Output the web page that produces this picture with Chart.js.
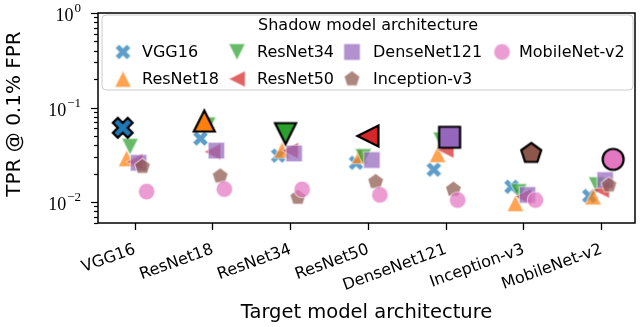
<!DOCTYPE html>
<html>
<head>
<meta charset="utf-8">
<script src="https://cdn.jsdelivr.net/npm/chart.js@4"></script>
<style>
  html, body { margin: 0; padding: 0; background: #fff; }
</style>
</head>
<body>
<canvas id="chart" width="640" height="327"></canvas>
<script>
// target models on the x axis, shadow models are the series (same names)
const targets = ["VGG16", "ResNet18", "ResNet34", "ResNet50", "DenseNet121", "Inception-v3", "MobileNet-v2"];
const shadows = ["VGG16", "ResNet18", "ResNet34", "ResNet50", "DenseNet121", "Inception-v3", "MobileNet-v2"];

// TPR @ 0.1% FPR, one array per shadow model, values for each target
const vgg16       = [0.061, 0.047, 0.031, 0.026, 0.022, 0.0145, 0.0116];
const resnet18    = [0.029, 0.072, 0.0355, 0.031, 0.032, 0.0097, 0.0114];
const resnet34    = [0.0385, 0.065, 0.053, 0.030, 0.045, 0.0128, 0.0151];
const resnet50    = [0.0267, 0.034, 0.035, 0.050, 0.0355, 0.0114, 0.0134];
const densenet121 = [0.026, 0.035, 0.0327, 0.0278, 0.0484, 0.0119, 0.0171];
const inception   = [0.0237, 0.0188, 0.0112, 0.0164, 0.0136, 0.0327, 0.0151];
const mobilenet   = [0.0129, 0.0137, 0.0136, 0.0119, 0.0105, 0.0105, 0.0283];

const yTickValues = [1, 0.1, 0.01];
const yTickExps = ["0", "\u22121", "\u22122"];

const series = [vgg16, resnet18, resnet34, resnet50, densenet121, inception, mobilenet];
const colors = ["#1f77b4", "#ff7f0e", "#2ca02c", "#d62728", "#9467bd", "#8c564b", "#e377c2"];
const shapes = ["X", "^", "v", "<", "s", "p", "o"];
const dodge = [-0.158, -0.109, -0.064, -0.005, 0.046, 0.095, 0.149];

const SMALL = 16.5, BIG = 21;

function tracePath(g, shape, s) {
  const h = s / 2;
  g.beginPath();
  if (shape === "X") {
    const pts = [[-1,-3],[1,-3],[1,-1],[3,-1],[3,1],[1,1],[1,3],[-1,3],[-1,1],[-3,1],[-3,-1],[-1,-1]];
    const c = Math.SQRT1_2;
    pts.forEach((p, i) => {
      const x = p[0] / 6 * s, y = p[1] / 6 * s;
      const rx = x * c - y * c, ry = x * c + y * c;
      if (i === 0) g.moveTo(rx, ry); else g.lineTo(rx, ry);
    });
  } else if (shape === "^") {
    g.moveTo(0, -h); g.lineTo(-h, h); g.lineTo(h, h);
  } else if (shape === "v") {
    g.moveTo(0, h); g.lineTo(-h, -h); g.lineTo(h, -h);
  } else if (shape === "<") {
    g.moveTo(-h, 0); g.lineTo(h, -h); g.lineTo(h, h);
  } else if (shape === "s") {
    g.rect(-h, -h, s, s);
  } else if (shape === "p") {
    for (let k = 0; k < 5; k++) {
      const a = (-90 + k * 72) * Math.PI / 180;
      if (k === 0) g.moveTo(h * Math.cos(a), h * Math.sin(a)); else g.lineTo(h * Math.cos(a), h * Math.sin(a));
    }
  } else {
    g.arc(0, 0, h, 0, Math.PI * 2);
  }
  g.closePath();
}

function makeMarker(shape, color, size, big) {
  const lw = big ? 2.2 : 1.2;
  const dim = Math.ceil(size + lw * 2 + 4);
  const cv = document.createElement("canvas");
  cv.width = dim; cv.height = dim;
  const g = cv.getContext("2d");
  g.translate(dim / 2, dim / 2);
  tracePath(g, shape, size);
  g.globalAlpha = big ? 1 : 0.72;
  g.fillStyle = color;
  g.fill();
  g.globalAlpha = 1;
  g.lineJoin = "miter";
  g.lineWidth = lw;
  g.strokeStyle = big ? "#000" : "rgba(255,255,255,0.55)";
  g.stroke();
  return cv;
}

const smallMarks = shapes.map((sh, i) => makeMarker(sh, colors[i], SMALL, false));
const bigMarks = shapes.map((sh, i) => makeMarker(sh, colors[i], BIG, true));

const datasets = series.map((vals, s) => ({
  label: shadows[s],
  data: vals.map((v, t) => ({ x: t + dodge[s], y: v })).filter((p, t) => t !== s),
  pointStyle: smallMarks[s],
  order: 7 - s
}));
// matching shadow/target pairs, drawn large on top
datasets.push({
  label: "match",
  data: targets.map((t, i) => ({ x: i + dodge[i], y: series[i][i] })),
  pointStyle: bigMarks,
  order: 0
});

const decor = {
  id: "decor",
  afterDraw(chart) {
    const g = chart.ctx;
    const a = chart.chartArea;
    const ys = chart.scales.y;
    g.save();
    // frame
    g.strokeStyle = "#000";
    g.lineWidth = 1.5;
    g.strokeRect(a.left, a.top, a.right - a.left, a.bottom - a.top);

    // y ticks, major and minor
    g.lineWidth = 1.2;
    for (let d = -3; d <= 0; d++) {
      for (let m = 1; m <= 9; m++) {
        const v = m * Math.pow(10, d);
        if (v < ys.min - 1e-12 || v > ys.max + 1e-12) continue;
        const py = Math.round(ys.getPixelForValue(v)) + 0.5;
        const len = m === 1 ? 7 : 4;
        g.beginPath();
        g.moveTo(a.left - len, py);
        g.lineTo(a.left, py);
        g.stroke();
      }
    }
    // y tick labels
    g.fillStyle = "#000";
    g.textBaseline = "alphabetic";
    yTickValues.forEach((v, i) => {
      const py = ys.getPixelForValue(v);
      g.font = "13px 'Liberation Serif'";
      g.textAlign = "right";
      const ew = g.measureText(yTickExps[i]).width;
      g.fillText(yTickExps[i], 81, py - 1);
      g.font = "18px 'Liberation Serif'";
      g.fillText("10", 81 - ew - 1, py + 8);
    });

    // y title
    g.save();
    g.translate(15, 114);
    g.rotate(-Math.PI / 2);
    g.font = "20px 'DejaVu Sans'";
    g.textAlign = "center";
    g.textBaseline = "middle";
    g.fillText("TPR @ 0.1% FPR", 0, 0);
    g.restore();

    // legend
    const bx = 102, by = 15, bw = 531, bh = 75, r = 4;
    g.beginPath();
    g.moveTo(bx + r, by);
    g.arcTo(bx + bw, by, bx + bw, by + bh, r);
    g.arcTo(bx + bw, by + bh, bx, by + bh, r);
    g.arcTo(bx, by + bh, bx, by, r);
    g.arcTo(bx, by, bx + bw, by, r);
    g.closePath();
    g.fillStyle = "rgba(255,255,255,0.8)";
    g.fill();
    g.strokeStyle = "#cccccc";
    g.lineWidth = 1;
    g.stroke();

    g.fillStyle = "#000";
    g.font = "16px 'DejaVu Sans'";
    g.textAlign = "center";
    g.textBaseline = "middle";
    g.fillText("Shadow model architecture", 368, 26);

    const markX = [123, 237, 352, 502];
    const textX = [142, 257, 373, 519];
    const rowY = [52, 79];
    g.textAlign = "left";
    shadows.forEach((name, i) => {
      const col = Math.floor(i / 2), row = i % 2;
      const img = smallMarks[i];
      g.drawImage(img, markX[col] - img.width / 2, rowY[row] - img.height / 2);
      g.fillText(name, textX[col], rowY[row] + 1);
    });
    g.restore();
  }
};

new Chart(document.getElementById("chart"), {
  type: "scatter",
  data: { datasets },
  options: {
    responsive: false,
    animation: false,
    events: [],
    devicePixelRatio: 1,
    layout: { padding: { left: 98, top: 13, right: 5, bottom: 0 } },
    plugins: { legend: { display: false }, tooltip: { enabled: false } },
    scales: {
      x: {
        type: "linear",
        min: -0.476,
        max: 6.43,
        afterBuildTicks: (sc) => { sc.ticks = targets.map((t, i) => ({ value: i })); },
        afterFit: (sc) => { sc.height = 104; },
        grid: { drawOnChartArea: false, drawTicks: true, tickLength: 7, tickWidth: 1.3, tickColor: "#000" },
        border: { display: false },
        ticks: {
          autoSkip: false,
          minRotation: 20,
          maxRotation: 20,
          padding: 10,
          color: "#000",
          font: { family: "'DejaVu Sans'", size: 16 },
          callback: (v) => targets[Math.round(v)] || ""
        },
        title: {
          display: true,
          text: "Target model architecture",
          color: "#000",
          font: { family: "'DejaVu Sans'", size: 19.5 },
          padding: { top: 0, bottom: 2 }
        }
      },
      y: {
        type: "logarithmic",
        min: 0.006,
        max: 1,
        display: false
      }
    }
  },
  plugins: [decor]
});
</script>
</body>
</html>
